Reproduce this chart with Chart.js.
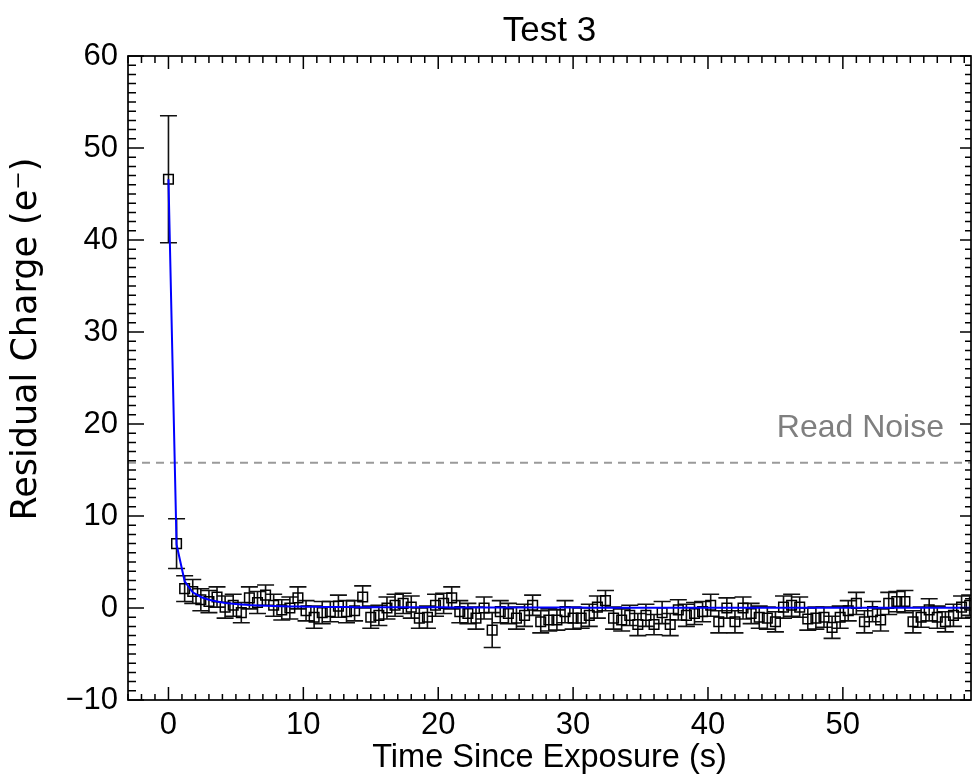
<!DOCTYPE html>
<html>
<head>
<meta charset="utf-8">
<script src="https://cdn.jsdelivr.net/npm/chart.js@4.4.1/dist/chart.umd.min.js"></script>
<style>
html,body{margin:0;padding:0;background:#ffffff;}
#wrap{width:980px;height:784px;}
</style>
</head>
<body>
<div id="wrap"><canvas id="c" width="980" height="784"></canvas></div>
<script>
// ---- data ----
const times = [0.0,0.6,1.2,1.8,2.4,3.0,3.6,4.2,4.8,5.4,
  6.0,6.6,7.2,7.8,8.4,9.0,9.6,10.2,10.8,11.4,
  12.0,12.6,13.2,13.8,14.4,15.0,15.6,16.2,16.8,17.4,
  18.0,18.6,19.2,19.8,20.4,21.0,21.6,22.2,22.8,23.4,
  24.0,24.6,25.2,25.8,26.4,27.0,27.6,28.2,28.8,29.4,
  30.0,30.6,31.2,31.8,32.4,33.0,33.6,34.2,34.8,35.4,
  36.0,36.6,37.2,37.8,38.4,39.0,39.6,40.2,40.8,41.4,
  42.0,42.6,43.2,43.8,44.4,45.0,45.6,46.2,46.8,47.4,
  48.0,48.6,49.2,49.8,50.4,51.0,51.6,52.2,52.8,53.4,
  54.0,54.6,55.2,55.8,56.4,57.0,57.6,58.2,58.8,59.4];
const charge = [46.6,7.0,2.1,1.8,0.9,0.7,1.2,0.1,0.3,-0.5,
  1.1,0.6,1.4,0.3,-0.2,0.0,1.1,-0.3,-1.0,-0.5,
  -0.4,0.2,-0.4,-0.3,1.2,-1.0,-0.8,0.0,0.3,0.5,
  0.1,-1.1,-1.0,0.3,0.5,1.1,-0.4,-0.6,-1.1,0.0,
  -2.4,-0.4,-0.6,-1.1,-0.8,0.3,-1.5,-1.3,-1.3,-0.4,
  -1.1,-1.1,-0.8,0.1,0.8,-1.1,-1.3,-0.8,-1.8,-0.8,
  -1.8,-0.5,-1.8,-0.2,-0.8,-0.6,-0.4,0.3,-1.5,0.0,
  -1.5,0.0,-0.6,-1.0,-1.1,-1.5,0.1,0.3,0.1,-1.2,
  -1.1,-1.0,-2.1,-1.0,-0.3,0.5,-1.5,-0.4,-1.3,0.5,
  0.7,0.7,-1.5,-1.0,-0.2,-1.0,-1.5,-0.8,0.1,0.3];
const chargeErr = [6.9,2.7,1.4,1.3,1.2,1.2,1.1,1.2,1.2,1.1,
  1.2,1.2,1.1,1.2,1.1,1.2,1.2,1.1,1.2,1.2,
  1.1,1.2,1.2,1.1,1.2,1.2,1.1,1.2,1.2,1.1,
  1.2,1.1,1.2,1.2,1.1,1.2,1.2,1.1,1.2,1.2,
  1.9,1.2,1.1,1.2,1.2,1.1,1.2,1.2,1.1,1.2,
  1.2,1.1,1.2,1.2,1.1,1.2,1.2,1.1,1.2,1.2,
  1.1,1.2,1.2,1.1,1.2,1.2,1.1,1.2,1.2,1.1,
  1.2,1.2,1.1,1.2,1.2,1.1,1.2,1.2,1.1,1.2,
  1.2,1.1,1.2,1.2,1.1,1.2,1.2,1.1,1.2,1.2,
  1.1,1.2,1.2,1.1,1.2,1.2,1.1,1.2,1.2,1.1];
const fitCurve = [46.6,6.9,2.9,1.7,1.2,0.9,0.7,0.55,0.45,0.38,
  0.32,0.28,0.24,0.21,0.19,0.17,0.15,0.14,0.13,0.12,
  0.11,0.10,0.10,0.09,0.09,0.09,0.08,0.08,0.08,0.08,
  0.07,0.07,0.07,0.07,0.07,0.06,0.06,0.06,0.06,0.06,
  0.06,0.06,0.05,0.05,0.05,0.05,0.05,0.05,0.05,0.05,
  0.05,0.05,0.04,0.04,0.04,0.04,0.04,0.04,0.04,0.04,
  0.04,0.04,0.04,0.04,0.04,0.04,0.03,0.03,0.03,0.03,
  0.03,0.03,0.03,0.03,0.03,0.03,0.03,0.03,0.03,0.03,
  0.03,0.03,0.03,0.03,0.03,0.03,0.03,0.03,0.03,0.03,
  0.03,0.03,0.02,0.02,0.02,0.02,0.02,0.02,0.02,0.02];
const readNoise = [15.8];
const xRange = [-3, 59.5];
const yRange = [-10, 60];
const xTickValues = [0,10,20,30,40,50];
const yTickValues = [-10,0,10,20,30,40,50,60];
const titleText = 'Test 3';
const xTitle = 'Time Since Exposure (s)';
const yTitle = 'Residual Charge (e\u207B)';
const noiseLabel = 'Read Noise';
const noiseLabelPos = [57.5, 18.6];

// ---- drawing ----
const FONT = "'Liberation Sans',Arial,Helvetica,sans-serif";
const fmt = v => (v < 0 ? '\u2212' + Math.abs(v) : String(v));

const framePlugin = {
  id: 'frame',
  beforeDatasetsDraw(chart) {
    const {ctx, chartArea: a, scales: {x, y}} = chart;
    ctx.save();
    ctx.beginPath();
    ctx.rect(a.left, a.top, a.right - a.left, a.bottom - a.top);
    ctx.clip();
    ctx.strokeStyle = '#111';
    ctx.lineWidth = 1.6;
    times.forEach((t, i) => {
      const px = x.getPixelForValue(t);
      const lo = y.getPixelForValue(charge[i] - chargeErr[i]);
      const hi = y.getPixelForValue(charge[i] + chargeErr[i]);
      ctx.beginPath();
      ctx.moveTo(px, lo); ctx.lineTo(px, hi);
      ctx.moveTo(px - 8.5, lo); ctx.lineTo(px + 8.5, lo);
      ctx.moveTo(px - 8.5, hi); ctx.lineTo(px + 8.5, hi);
      ctx.stroke();
    });
    ctx.restore();
  },
  afterDatasetsDraw(chart) {
    const {ctx, chartArea: a, scales: {x, y}} = chart;
    ctx.save();
    // Read Noise label
    ctx.fillStyle = '#7f7f7f';
    ctx.font = "32px " + FONT;
    ctx.textAlign = 'right';
    ctx.textBaseline = 'alphabetic';
    ctx.fillText(noiseLabel, x.getPixelForValue(noiseLabelPos[0]), y.getPixelForValue(noiseLabelPos[1]));
    // box
    ctx.strokeStyle = '#000';
    ctx.lineWidth = 1.7;
    ctx.strokeRect(a.left, a.top, a.right - a.left, a.bottom - a.top);
    ctx.lineWidth = 1.5;
    ctx.beginPath();
    for (let v = Math.ceil(xRange[0]); v <= xRange[1]; v++) {
      const px = x.getPixelForValue(v);
      const major = v % 10 === 0;
      const lb = major ? 13 : 6, lt = major ? 13 : 7;
      ctx.moveTo(px, a.bottom); ctx.lineTo(px, a.bottom - lb);
      ctx.moveTo(px, a.top); ctx.lineTo(px, a.top + lt);
    }
    for (let v = yRange[0]; v <= yRange[1]; v++) {
      const py = y.getPixelForValue(v);
      const major = v % 10 === 0;
      const ll = major ? 16 : 8, lr = major ? 11 : 6;
      ctx.moveTo(a.left, py); ctx.lineTo(a.left + ll, py);
      ctx.moveTo(a.right, py); ctx.lineTo(a.right - lr, py);
    }
    ctx.stroke();
    ctx.restore();
  }
};

new Chart(document.getElementById('c').getContext('2d'), {
  type: 'scatter',
  data: {
    datasets: [
      {
        label: 'Fit',
        data: times.map((t, i) => ({x: t, y: fitCurve[i]})),
        showLine: true, borderColor: '#0000ff', borderWidth: 2,
        pointRadius: 0, tension: 0, fill: false
      },
      {
        label: 'Residual charge',
        data: times.map((t, i) => ({x: t, y: charge[i]})),
        showLine: false, pointStyle: 'rect', pointRadius: 6.8,
        borderColor: '#000', borderWidth: 1.5, backgroundColor: 'rgba(0,0,0,0)'
      },
      {
        label: noiseLabel,
        data: [{x: xRange[0], y: readNoise[0]}, {x: xRange[1], y: readNoise[0]}],
        showLine: true, borderColor: '#9a9a9a', borderWidth: 2,
        borderDash: [8, 6], pointRadius: 0, fill: false
      }
    ]
  },
  options: {
    responsive: false,
    animation: false,
    devicePixelRatio: 1,
    layout: {padding: {left: 0, right: 9, top: 0, bottom: 0}},
    plugins: {
      legend: {display: false},
      tooltip: {enabled: false},
      title: {
        display: true, text: titleText, fullSize: false, color: '#000',
        font: {family: FONT, size: 35, weight: 'normal', lineHeight: 1},
        padding: {top: 14, bottom: 7}
      }
    },
    scales: {
      x: {
        type: 'linear', min: xRange[0], max: xRange[1],
        afterBuildTicks: s => { s.ticks = xTickValues.map(v => ({value: v})); },
        afterFit: s => { s.height = 84; },
        grid: {display: false, drawTicks: false},
        border: {display: false},
        ticks: {padding: 7, color: '#000', autoSkip: false, maxRotation: 0,
          font: {family: FONT, size: 31}, callback: v => fmt(v)},
        title: {display: true, text: xTitle, color: '#000',
          font: {family: FONT, size: 32.5}, padding: {top: 0, bottom: 6}}
      },
      y: {
        type: 'linear', min: yRange[0], max: yRange[1],
        afterBuildTicks: s => { s.ticks = yTickValues.map(v => ({value: v})); },
        afterFit: s => { s.width = 128; },
        grid: {display: false, drawTicks: false},
        border: {display: false},
        ticks: {padding: 10, color: '#000', autoSkip: false,
          font: {family: FONT, size: 31}, callback: v => fmt(v)},
        title: {display: true, text: '       ' + yTitle, color: '#000',
          font: {family: "'DejaVu Sans',sans-serif", size: 35}, padding: {top: 6, bottom: 0}}
      }
    }
  },
  plugins: [framePlugin]
});
</script>
</body>
</html>
